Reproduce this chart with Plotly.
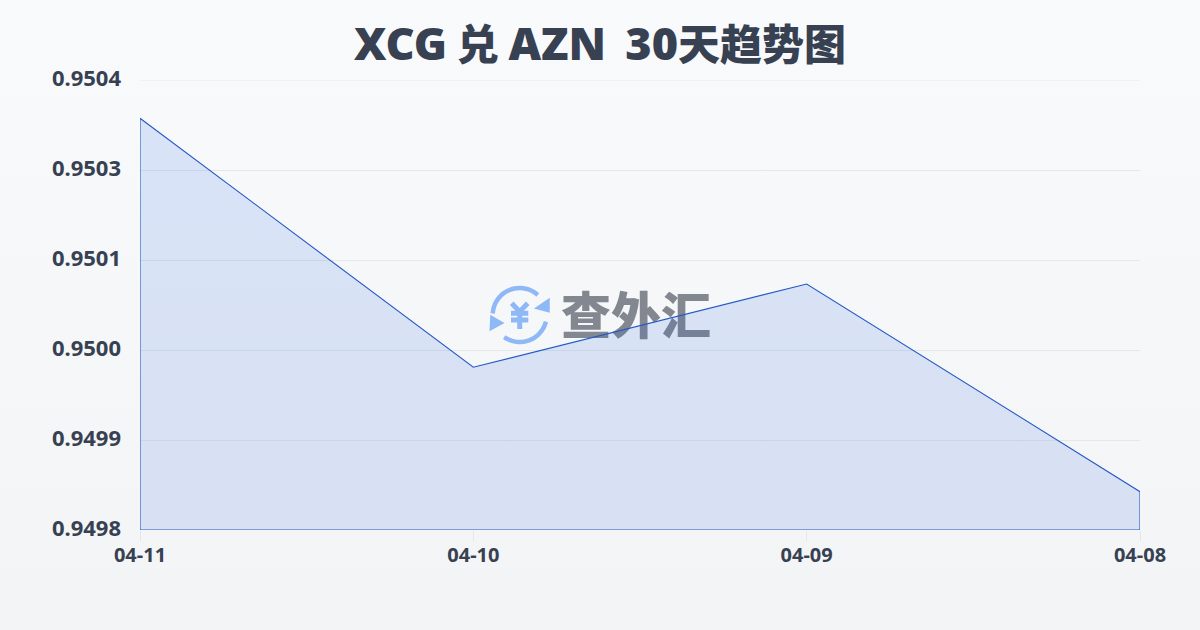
import math
import plotly.graph_objects as go

dates = ["04-11", "04-10", "04-09", "04-08"]
rates = [0.950349, 0.950017, 0.950128, 0.949851]

y_ticks = [0.9498, 0.94992, 0.95004, 0.95016, 0.95028, 0.9504]
y_labels = ["0.9498", "0.9499", "0.9500", "0.9501", "0.9503", "0.9504"]

title_parts = ["XCG", "兑", "AZN", "30", "天趋势图"]
logo_text = "查外汇"

W, H = 1200, 630
DARK = "#374151"
ICON = "#8fb8f7"


# pixel position on the page -> paper fraction
def px(x):
    return (x - 140) / 1000


def py(y):
    return (530 - y) / 450


def path(points, close=False):
    s = "M " + " L ".join(f"{px(x):.4f},{py(y):.4f}" for x, y in points)
    return s + (" Z" if close else "")


def arc_path(start, end):
    cx, cy, r = 519.7, 315, 27
    parts = []
    n = 24
    for i in range(n + 1):
        a = math.radians(start + (end - start) * i / n)
        parts.append((cx + r * math.cos(a), cy + r * math.sin(a)))
    return path(parts)


def icon_line(points, width=5):
    return dict(type="path", xref="paper", yref="paper", layer="below",
                path=path(points), line=dict(color=ICON, width=width))


def icon_head(points):
    return dict(type="path", xref="paper", yref="paper", layer="below",
                path=path(points, True), fillcolor=ICON, line=dict(color=ICON, width=1.5))


def latin(s):
    return f'<span style="font-family:Noto Sans;font-size:45px">{s}</span>'


title = (latin(title_parts[0]) + " " + title_parts[1] + " " + latin(title_parts[2])
         + "  " + latin(title_parts[3]) + title_parts[4])

fig = go.Figure()

# closed outline, the line runs down both sides and along the bottom too
fig.add_trace(go.Scatter(
    x=[dates[0]] + dates + [dates[-1], dates[0]],
    y=[y_ticks[0]] + rates + [y_ticks[0], y_ticks[0]],
    mode="lines",
    fill="toself",
    fillgradient=dict(
        type="vertical",
        colorscale=[[0, "rgba(30,85,215,0.13)"], [1, "rgba(30,95,225,0.14)"]],
    ),
    line=dict(color="#2458c6", width=1.1),
    cliponaxis=False,
    hoverinfo="skip",
    showlegend=False,
))

shapes = [
    dict(type="path", xref="paper", yref="paper", layer="below",
         path=arc_path(183, 312), line=dict(color=ICON, width=4.5)),
    dict(type="path", xref="paper", yref="paper", layer="below",
         path=arc_path(14, 125), line=dict(color=ICON, width=4.5)),
    icon_head([(549, 299.3), (549, 311.7), (535.7, 308.3)]),
    icon_head([(491, 316), (490.3, 330), (503, 323)]),
    # the yen sign in the middle of the icon
    icon_line([(511.7, 303.3), (519.7, 311.7), (527.7, 303.3)]),
    icon_line([(511, 313.3), (528.3, 313.3)]),
    icon_line([(511, 320), (528.3, 320)]),
    icon_line([(519.7, 311.7), (519.7, 329)]),
    # holder for the watermark text so it sits under the area
    dict(type="rect", xref="paper", yref="paper", layer="below",
         x0=px(555), x1=px(717), y0=py(350), y1=py(290),
         line=dict(width=0), fillcolor="rgba(0,0,0,0)",
         label=dict(text=logo_text, textposition="middle center",
                    font=dict(family="Noto Sans CJK SC", size=50, color="#83878f", weight=900))),
    # plotly leaves out the grid line at the very top of the range
    dict(type="line", xref="paper", yref="y", layer="below",
         x0=0, x1=1, y0=y_ticks[-1], y1=y_ticks[-1],
         line=dict(color="#e5e7eb", width=1)),
]

fig.update_layout(
    width=W,
    height=H,
    margin=dict(l=140, r=60, t=80, b=100),
    paper_bgcolor="rgba(0,0,0,0)",
    plot_bgcolor="rgba(0,0,0,0)",
    shapes=shapes,
    title=dict(
        text=title,
        x=0.5,
        xanchor="center",
        xref="container",
        y=1 - 45 / H,
        yanchor="middle",
        font=dict(family="Noto Sans CJK SC", size=42, color="#374151", weight=900),
    ),
)

fig.update_xaxes(
    type="category",
    categoryorder="array",
    categoryarray=dates,
    range=[0, 3],
    showgrid=False,
    zeroline=False,
    showline=False,
    ticks="outside",
    ticklen=10,
    tickcolor="#e5e7eb",
    tickwidth=1,
    ticklabelstandoff=-3,
    tickfont=dict(family="Noto Sans", size=20, color=DARK, weight="bold"),
)
fig.update_yaxes(
    range=[y_ticks[0], y_ticks[-1]],
    tickvals=y_ticks,
    ticktext=y_labels,
    showgrid=True,
    gridcolor="#e5e7eb",
    gridwidth=1,
    zeroline=False,
    showline=False,
    ticks="",
    ticklabelstandoff=18,
    ticklabelshift=-2,
    tickfont=dict(family="Noto Sans", size=22, color=DARK, weight="bold"),
)

page_style = """
document.documentElement.style.height = '100%';
document.body.style.margin = '0';
document.body.style.minHeight = '100%';
document.body.style.background = 'linear-gradient(180deg, #f8fafc 0%, #f3f4f6 100%)';
"""

fig.write_html("out.html", post_script=page_style, config={"displayModeBar": False})
